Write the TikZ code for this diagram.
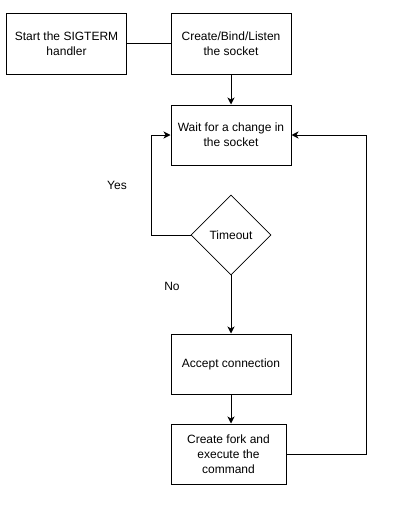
\documentclass[tikz,border=0pt]{standalone}
\usepackage{fontspec}
\setmainfont{Liberation Sans}
\usetikzlibrary{positioning, arrows.meta, shapes.geometric}

\begin{document}
\begin{tikzpicture}[
    x=1pt, y=-1pt,
    node distance=30pt,
    box/.style={rectangle, draw=black, fill=white, font=\fontsize{12}{15}\selectfont, align=center, minimum width=120pt, minimum height=60pt, inner sep=2pt, line width=1pt},
    decision/.style={diamond, draw=black, fill=white, font=\fontsize{12}{15}\selectfont, minimum width=80pt, minimum height=80pt, inner sep=0pt, line width=0.6pt},
    arrow/.style={-{Stealth[length=7pt, width=7pt, inset=2pt]}, line width=1pt},
    line/.style={line width=1pt},
    answer/.style={font=\fontsize{12}{15}\selectfont}
]
    % Page frame
    \useasboundingbox (0,0) rectangle (402,511);

    % Top row
    \node[box] (sigterm) at (66.5,44) {Start the SIGTERM\\handler};
    \node[box] (socket) at (231,44) {Create/Bind/Listen\\the socket};
    \draw[line] (sigterm) -- (socket);

    % Main loop
    \node[box, below=30pt of socket] (wait) {Wait for a change in\\the socket};
    \draw[arrow] (socket) -- (wait);

    \node[decision] (timeout) at (231,235) {Timeout};
    \draw[arrow] (timeout.west) -- ++(-39,0) |- (wait.west);
    \node[answer] (yes) at (117,185) {Yes};

    \node[box] (accept) at (231,364) {Accept connection};
    \draw[arrow] (timeout.south) -- (accept.north);
    \node[answer] (no) at (172,286) {No};

    \node[box, minimum width=115pt] (fork) at (228.5,454) {Create fork and\\execute the\\command};
    \draw[arrow] (accept.south) -- (accept.south |- fork.north);

    % Back to waiting
    \draw[arrow] (fork.east) -- ++(80,0) |- (wait.east);

\end{tikzpicture}
\end{document}
